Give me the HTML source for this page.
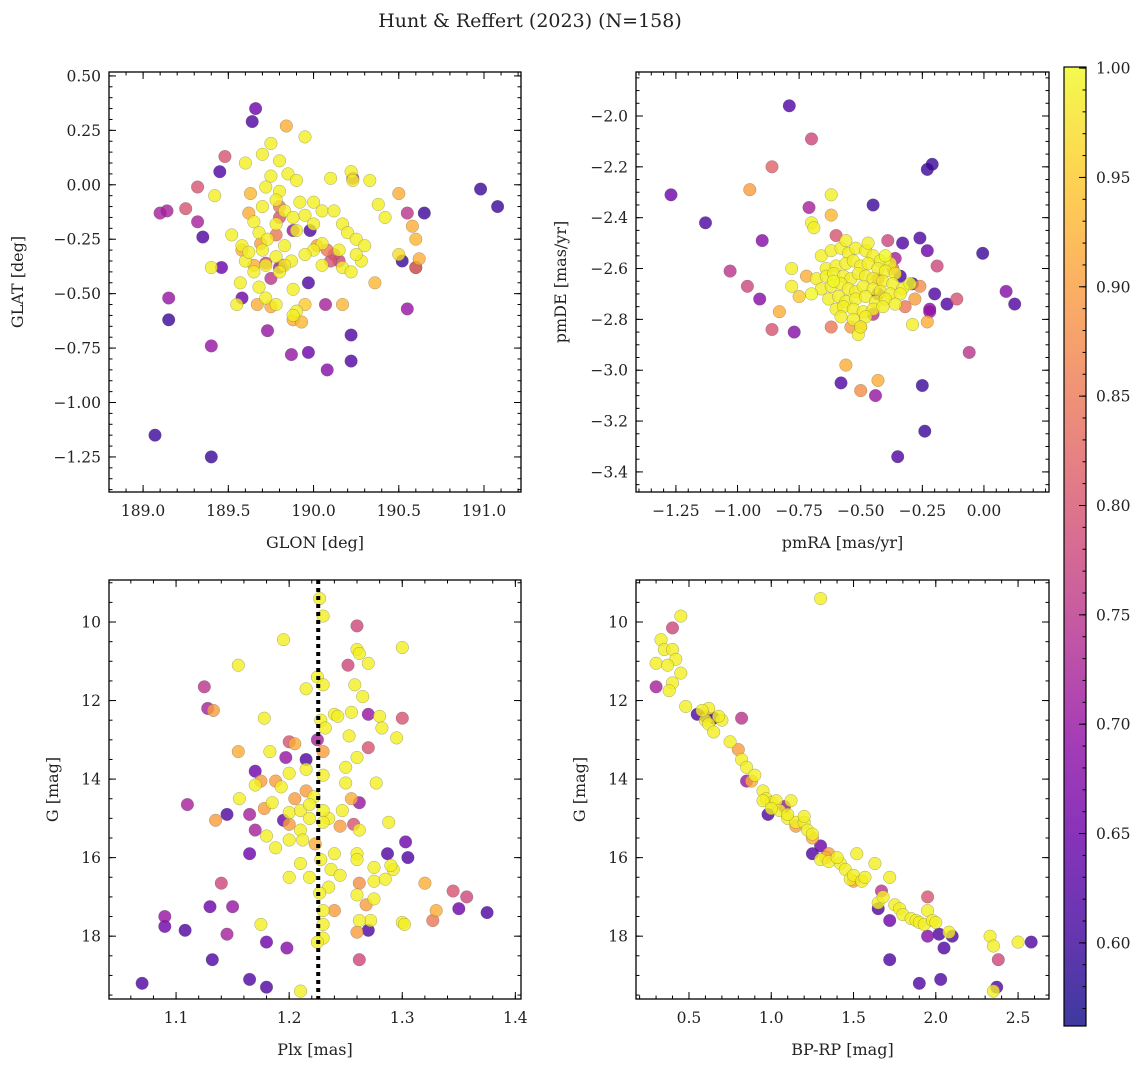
<!DOCTYPE html>
<html><head><meta charset="utf-8"><style>
html,body{margin:0;padding:0;background:#fff;}
svg text{font-family:"DejaVu Serif","Liberation Serif",serif;fill:#222;}
</style></head><body>
<svg id="fig" width="1148" height="1067" viewBox="0 0 1148 1067" xmlns="http://www.w3.org/2000/svg">
<defs>
<linearGradient id="cbgrad" x1="0" y1="1" x2="0" y2="0">
<stop offset="0" stop-color="#0d0887"/><stop offset="0.1" stop-color="#41049d"/><stop offset="0.2" stop-color="#6a00a8"/><stop offset="0.3" stop-color="#8f0da4"/><stop offset="0.4" stop-color="#b12a90"/><stop offset="0.5" stop-color="#cc4778"/><stop offset="0.6" stop-color="#e16462"/><stop offset="0.7" stop-color="#f2844b"/><stop offset="0.8" stop-color="#fca636"/><stop offset="0.9" stop-color="#fcce25"/><stop offset="1" stop-color="#f0f921"/>
</linearGradient>
</defs>
<text x="530" y="27" font-size="19" text-anchor="middle">Hunt &amp; Reffert (2023) (N=158)</text>
</svg>
<script>
// ---------- Panel 1: GLON / GLAT ----------
const p1Lon=[189.07,189.40,189.15,189.15,189.40,189.66,189.64,189.10,189.14,189.25,189.32,189.32,189.35,189.45,189.48,189.46,189.58,189.73,189.87,189.97,190.08,190.22,190.22,190.98,191.08,190.65,190.55,190.50,190.55,190.60,190.07,190.50,190.52,190.58,190.60,190.62,190.60,190.36,189.95,189.84,189.75,189.70,189.60,189.80,189.42,189.40,189.52,189.58,
189.72,189.75,189.80,189.85,189.90,189.78,189.83,189.88,189.92,189.70,189.65,189.68,189.73,189.78,189.83,189.90,189.95,190.00,190.05,190.10,190.22,190.23,190.33,190.12,190.17,190.20,190.25,190.05,190.00,189.95,189.87,189.78,189.70,189.65,189.60,189.57,189.68,189.72,189.78,189.88,189.90,189.83,190.05,190.17,190.28,190.22,190.30,190.42,190.38,190.00,190.15,190.25,189.88,189.80,189.55,189.62,189.72,
189.63,189.62,189.58,189.65,189.69,189.67,189.75,189.93,189.95,189.88,190.17,190.02,190.08,190.12,190.10,190.15,189.78,189.80,189.80,189.82,189.72,189.75,190.23,189.88,189.98,189.97,189.80];
const p1Lat=[-1.15,-1.25,-0.62,-0.52,-0.74,0.35,0.29,-0.13,-0.12,-0.11,-0.01,-0.17,-0.24,0.06,0.13,-0.38,-0.52,-0.67,-0.78,-0.77,-0.85,-0.69,-0.81,-0.02,-0.10,-0.13,-0.13,-0.04,-0.57,-0.38,-0.55,-0.32,-0.35,-0.19,-0.25,-0.34,-0.38,-0.45,0.22,0.27,0.19,0.14,0.10,0.11,-0.05,-0.38,-0.23,-0.28,
-0.01,0.04,-0.03,0.05,0.02,-0.07,-0.12,-0.15,-0.08,-0.10,-0.17,-0.22,-0.25,-0.18,-0.28,-0.21,-0.14,-0.08,-0.12,0.03,0.06,0.02,0.02,-0.12,-0.18,-0.22,-0.25,-0.27,-0.30,-0.32,-0.35,-0.33,-0.30,-0.40,-0.35,-0.45,-0.47,-0.52,-0.55,-0.48,-0.58,-0.37,-0.37,-0.38,-0.35,-0.40,-0.28,-0.15,-0.09,-0.18,-0.30,-0.32,-0.60,-0.40,-0.55,-0.31,-0.37,
-0.04,-0.13,-0.30,-0.37,-0.27,-0.55,-0.56,-0.63,-0.55,-0.62,-0.55,-0.28,-0.30,-0.32,-0.35,-0.35,-0.23,-0.10,-0.15,-0.37,-0.36,-0.43,0.03,-0.21,-0.21,-0.45,-0.38];
const p1Prob=[0.6,0.6,0.6,0.7,0.7,0.65,0.62,0.72,0.72,0.8,0.8,0.72,0.62,0.62,0.8,0.65,0.65,0.7,0.7,0.65,0.68,0.62,0.62,0.6,0.6,0.6,0.75,0.92,0.7,0.62,0.72,0.97,0.6,0.92,0.93,0.92,0.85,0.93,0.99,0.92,0.99,0.99,0.99,0.99,0.99,0.99,0.99,0.99,
0.99,0.99,0.99,0.99,0.99,0.99,0.99,0.99,0.99,0.99,0.99,0.99,0.99,0.99,0.99,0.99,0.99,0.99,0.99,0.99,0.99,0.99,0.99,0.99,0.99,0.99,0.99,0.99,0.99,0.99,0.99,0.99,0.99,0.99,0.99,0.99,0.99,0.99,0.99,0.99,0.99,0.99,0.99,0.99,0.99,0.99,0.99,0.99,0.99,0.99,0.99,0.99,0.99,0.99,0.99,0.99,0.99,
0.93,0.92,0.92,0.92,0.9,0.92,0.92,0.93,0.95,0.92,0.93,0.9,0.85,0.8,0.8,0.78,0.85,0.85,0.8,0.78,0.78,0.75,0.75,0.7,0.62,0.62,0.72];

// ---------- Panel 2: pmRA / pmDE ----------
const p2Ra=[-0.79,-0.70,-0.86,-0.95,-1.27,-1.13,-0.90,-0.71,-0.62,-0.62,-0.70,-0.69,-0.45,-0.23,-0.21,-0.39,-0.33,-0.26,-0.23,-0.19,-0.005,0.09,0.125,-0.11,-0.15,-0.20,-0.22,-0.22,-0.23,-0.06,-0.29,-1.03,-0.96,-0.91,-0.83,-0.86,-0.77,-0.72,-0.75,-0.78,-0.78,-0.56,-0.58,-0.50,-0.43,-0.44,-0.25,-0.24,-0.35,
-0.34,-0.29,-0.36,-0.45,-0.43,-0.26,-0.28,-0.32,-0.62,-0.54,-0.50,-0.60,-0.37,-0.43,
-0.66,-0.62,-0.58,-0.55,-0.52,-0.48,-0.45,-0.42,-0.38,-0.64,-0.60,-0.56,-0.53,-0.50,-0.47,-0.43,-0.40,-0.36,-0.68,-0.64,-0.61,-0.57,-0.54,-0.51,-0.48,-0.45,-0.41,-0.37,-0.33,-0.66,-0.62,-0.58,-0.55,-0.52,-0.49,-0.45,-0.42,-0.38,-0.34,-0.63,-0.59,-0.56,-0.52,-0.48,-0.44,-0.40,-0.36,-0.60,-0.57,-0.53,-0.49,-0.45,-0.41,-0.58,-0.53,-0.48,-0.51,-0.50,-0.56,-0.47,-0.40,-0.30,-0.70,-0.61];
const p2De=[-1.96,-2.09,-2.20,-2.29,-2.31,-2.42,-2.49,-2.36,-2.31,-2.39,-2.42,-2.44,-2.35,-2.21,-2.19,-2.49,-2.50,-2.48,-2.53,-2.59,-2.54,-2.69,-2.74,-2.72,-2.74,-2.70,-2.76,-2.77,-2.81,-2.93,-2.82,-2.61,-2.67,-2.72,-2.77,-2.84,-2.85,-2.63,-2.71,-2.67,-2.60,-2.98,-3.05,-3.08,-3.04,-3.10,-3.06,-3.24,-3.34,
-2.63,-2.66,-2.56,-2.78,-2.70,-2.67,-2.72,-2.75,-2.83,-2.83,-2.83,-2.47,-2.60,-2.64,
-2.55,-2.53,-2.52,-2.54,-2.52,-2.53,-2.55,-2.57,-2.58,-2.60,-2.59,-2.58,-2.57,-2.59,-2.58,-2.60,-2.61,-2.62,-2.64,-2.63,-2.62,-2.63,-2.64,-2.62,-2.63,-2.64,-2.65,-2.66,-2.68,-2.68,-2.67,-2.66,-2.68,-2.69,-2.67,-2.68,-2.69,-2.70,-2.70,-2.72,-2.71,-2.73,-2.72,-2.71,-2.73,-2.72,-2.74,-2.76,-2.75,-2.76,-2.77,-2.76,-2.75,-2.79,-2.80,-2.79,-2.86,-2.83,-2.49,-2.50,-2.55,-2.66,-2.70,-2.65];
const p2Prob=[0.62,0.78,0.82,0.9,0.65,0.62,0.68,0.72,0.99,0.93,0.99,0.99,0.6,0.6,0.6,0.78,0.62,0.62,0.65,0.78,0.6,0.68,0.62,0.8,0.62,0.62,0.68,0.7,0.92,0.75,0.99,0.75,0.78,0.68,0.92,0.8,0.68,0.92,0.95,0.99,0.99,0.92,0.62,0.88,0.92,0.7,0.6,0.6,0.62,
0.62,0.6,0.72,0.75,0.7,0.88,0.9,0.85,0.85,0.9,0.9,0.8,0.85,0.85,
0.99,0.99,0.99,0.99,0.99,0.99,0.99,0.99,0.99,0.99,0.99,0.99,0.99,0.99,0.99,0.99,0.99,0.99,0.99,0.99,0.99,0.99,0.99,0.99,0.99,0.99,0.99,0.99,0.99,0.99,0.99,0.99,0.99,0.99,0.99,0.99,0.99,0.99,0.99,0.99,0.99,0.99,0.99,0.99,0.99,0.99,0.99,0.99,0.99,0.99,0.99,0.99,0.99,0.99,0.99,0.99,0.99,0.99,0.99,0.99];

// ---------- Panel 3: Plx / G ----------
const p3Plx=[1.227,1.23,1.26,1.195,1.26,1.30,1.262,1.155,1.252,1.27,1.225,1.23,1.215,1.125,1.258,1.265,1.128,1.133,1.178,1.24,1.228,1.243,1.255,1.27,1.28,1.30,1.232,1.253,1.225,1.2,1.205,1.23,1.27,1.155,1.183,1.26,1.215,1.197,1.215,1.25,1.17,1.2,1.175,1.188,1.17,1.25,1.277,1.193,1.215,1.205,1.222,1.156,1.185,1.255,1.262,1.178,1.165,1.145,1.135,1.11,1.2,1.21,1.218,1.235,1.23,1.247,1.195,1.2,1.23,1.245,1.257,1.262,1.288,1.17,1.18,1.21,1.212,1.223,1.188,1.2,1.303,1.165,1.24,1.26,1.287,1.305,1.228,1.21,1.26,1.2,1.218,1.237,1.245,1.235,1.292,1.32,1.14,1.262,1.275,1.285,1.345,1.357,1.35,1.375,1.33,1.327,1.3,1.302,1.272,1.262,1.26,1.27,1.23,1.23,1.23,1.225,1.24,1.175,1.13,1.15,1.09,1.09,1.145,1.108,1.18,1.198,1.132,1.262,1.165,1.18,1.07,1.21,1.227,1.26,1.275,1.268,1.275,1.29,1.282,1.295,1.218,1.23];
const p3G=[9.4,9.85,10.1,10.45,10.7,10.65,10.8,11.1,11.1,11.05,11.4,11.6,11.7,11.65,11.6,11.9,12.2,12.25,12.45,12.35,12.5,12.4,12.3,12.35,12.4,12.45,12.7,12.9,13.0,13.05,13.1,13.3,13.2,13.3,13.3,13.45,13.5,13.45,13.75,13.7,13.8,13.85,14.05,14.05,14.15,14.1,14.1,14.2,14.3,14.5,14.45,14.5,14.6,14.5,14.6,14.75,14.9,14.9,15.05,14.65,14.85,14.8,15.0,15.0,14.8,14.8,15.05,15.15,15.1,15.2,15.15,15.3,15.1,15.3,15.45,15.3,15.55,15.65,15.75,15.55,15.6,15.9,15.9,15.9,15.9,16.0,16.05,16.15,16.05,16.5,16.5,16.3,16.45,16.75,16.3,16.65,16.65,16.65,16.6,16.55,16.85,17.0,17.3,17.4,17.35,17.6,17.65,17.7,17.6,17.6,17.9,17.85,17.35,17.7,18.05,18.15,17.35,17.7,17.25,17.25,17.5,17.75,17.95,17.85,18.15,18.3,18.6,18.6,19.1,19.3,19.2,19.4,16.9,16.95,17.05,17.2,16.25,16.2,12.7,12.95,14.65,13.9];
const p3Prob=[0.99,0.99,0.78,0.99,0.99,0.99,0.99,0.99,0.78,0.99,0.99,0.99,0.99,0.75,0.99,0.99,0.72,0.9,0.99,0.99,0.99,0.99,0.99,0.7,0.99,0.8,0.99,0.99,0.72,0.8,0.92,0.9,0.8,0.92,0.99,0.99,0.62,0.7,0.99,0.99,0.65,0.99,0.9,0.9,0.99,0.99,0.99,0.99,0.9,0.9,0.99,0.99,0.99,0.92,0.7,0.9,0.72,0.62,0.9,0.72,0.99,0.99,0.99,0.99,0.99,0.99,0.65,0.9,0.99,0.9,0.8,0.99,0.99,0.72,0.99,0.99,0.99,0.92,0.99,0.99,0.65,0.65,0.99,0.99,0.62,0.62,0.99,0.99,0.99,0.99,0.99,0.99,0.99,0.99,0.99,0.92,0.78,0.88,0.99,0.99,0.8,0.78,0.65,0.62,0.92,0.85,0.99,0.99,0.99,0.99,0.9,0.62,0.99,0.99,0.99,0.99,0.9,0.99,0.65,0.7,0.7,0.65,0.72,0.62,0.65,0.68,0.62,0.78,0.62,0.62,0.62,0.99,0.99,0.99,0.99,0.9,0.99,0.99,0.99,0.99,0.99,0.99];

// ---------- Panel 4: BP-RP / G ----------
const p4Col=[0.3,0.33,0.35,0.3,0.4,0.45,0.4,0.42,0.37,0.45,0.4,0.38,0.48,1.3,0.55,0.6,0.6,0.62,0.65,0.62,0.65,0.7,0.82,0.75,0.8,0.82,0.85,0.85,0.88,0.9,0.95,0.97,1.0,0.98,1.03,1.05,1.08,1.1,1.12,1.15,1.15,1.2,1.2,1.22,1.25,1.25,1.3,1.3,1.33,1.35,1.35,1.42,1.45,1.48,1.5,1.52,1.5,1.55,1.57,1.63,1.65,1.65,1.67,1.68,1.72,1.72,1.75,1.78,1.8,1.85,1.88,1.9,1.93,1.95,1.95,1.98,2.0,2.02,2.05,2.08,2.1,2.33,2.35,2.38,2.35,2.37,2.5,2.58,1.72,1.9,2.03,1.95,0.95,1.0,1.1,1.25,1.4,0.68,0.58];
const p4G=[11.05,10.45,10.7,11.65,10.15,9.85,10.7,10.95,11.1,11.3,11.55,11.75,12.15,9.4,12.35,12.4,12.5,12.2,12.45,12.6,12.8,12.5,12.45,13.05,13.25,13.5,13.7,14.05,14.05,13.9,14.3,14.5,14.6,14.9,14.55,14.8,14.7,15.0,14.55,15.1,15.2,15.1,14.95,15.3,15.5,15.9,15.7,16.05,16.0,15.9,16.1,16.15,16.3,16.55,16.6,15.9,16.45,16.6,16.5,16.15,17.3,17.15,16.85,17.0,16.5,17.6,17.2,17.3,17.45,17.55,17.6,17.65,17.7,17.0,17.35,17.6,17.65,17.95,18.3,17.9,18.0,18.0,18.25,18.6,19.4,19.3,18.15,18.15,18.6,19.2,19.1,18.0,14.55,14.75,14.9,15.4,16.0,12.4,12.25];
const p4Prob=[0.99,0.99,0.99,0.72,0.78,0.99,0.99,0.99,0.99,0.99,0.99,0.99,0.99,0.99,0.62,0.65,0.99,0.99,0.62,0.99,0.99,0.99,0.75,0.99,0.9,0.99,0.99,0.7,0.92,0.99,0.99,0.99,0.99,0.62,0.99,0.99,0.7,0.99,0.99,0.99,0.9,0.99,0.99,0.99,0.92,0.62,0.65,0.99,0.92,0.9,0.99,0.99,0.99,0.99,0.9,0.99,0.99,0.99,0.99,0.99,0.62,0.99,0.75,0.99,0.99,0.65,0.99,0.99,0.99,0.99,0.99,0.99,0.99,0.8,0.99,0.99,0.99,0.62,0.62,0.99,0.62,0.99,0.99,0.78,0.99,0.62,0.99,0.62,0.62,0.62,0.62,0.68,0.99,0.99,0.99,0.99,0.99,0.99,0.99];

// ---------- Colorbar ----------
const cbTicks=[0.60,0.65,0.70,0.75,0.80,0.85,0.90,0.95,1.00];
const cbMin=0.562, cbMax=1.0005;

const NS='http://www.w3.org/2000/svg';
const svg=document.getElementById('fig');
function el(tag,attrs,parent){const e=document.createElementNS(NS,tag);for(const k in attrs)e.setAttribute(k,attrs[k]);(parent||svg).appendChild(e);return e;}

const stops=[[0,[13,8,135]],[0.1,[65,4,157]],[0.2,[106,0,168]],[0.3,[143,13,164]],[0.4,[177,42,144]],[0.5,[204,71,120]],[0.6,[225,100,98]],[0.7,[242,132,75]],[0.8,[252,166,54]],[0.9,[252,206,37]],[1,[240,249,33]]];
function plasma(t){t=Math.max(0,Math.min(1,t));for(let i=1;i<stops.length;i++){if(t<=stops[i][0]){const a=stops[i-1],b=stops[i];const f=(t-a[0])/(b[0]-a[0]);const c=a[1].map((v,j)=>Math.round(v+(b[1][j]-v)*f));return 'rgb('+c.join(',')+')';}}return 'rgb(240,249,33)';}
function fmt(v,d){const s=Math.abs(v).toFixed(d);return (v<-1e-9?'\u2212':'')+s;}

function panel(o){
  const g=el('g',{});
  
  
  const sx=v=>o.L+(v-o.x0)/(o.x1-o.x0)*(o.R-o.L);
  const sy=v=>o.yInv? o.T+(v-o.y0)/(o.y1-o.y0)*(o.B-o.T) : o.B-(v-o.y0)/(o.y1-o.y0)*(o.B-o.T);
  const idx=o.xs.map((_,i)=>i).sort((a,b)=>o.ps[a]-o.ps[b]);
  const pg=el('g',{},g);
  
  
  for(const i of idx){
    const c=el('circle',{cx:sx(o.xs[i]).toFixed(1),cy:sy(o.ys[i]).toFixed(1),r:6.3,fill:plasma((o.ps[i]-cbMin)/(cbMax-cbMin)),'fill-opacity':0.8,stroke:'#555','stroke-opacity':0.5,'stroke-width':0.5},pg);
    
    
  }
  if(o.vline!==undefined){
    const ln=el('line',{x1:sx(o.vline),x2:sx(o.vline),y1:o.T,y2:o.B,stroke:'#000','stroke-width':4,'stroke-dasharray':'4,4'},g);
    
    
  }
  const tg=el('g',{stroke:'#000','stroke-width':1},g);
  const lo=Math.min(o.x0,o.x1),hi=Math.max(o.x0,o.x1);
  for(let k=Math.ceil(lo/o.xmin-1e-6);k*o.xmin<=hi+1e-9;k++){const v=k*o.xmin,x=sx(v);el('line',{x1:x,x2:x,y1:o.B,y2:o.B-3.5},tg);el('line',{x1:x,x2:x,y1:o.T,y2:o.T+3.5},tg);}
  const ylo=Math.min(o.y0,o.y1),yhi=Math.max(o.y0,o.y1);
  for(let k=Math.ceil(ylo/o.ymin-1e-6);k*o.ymin<=yhi+1e-9;k++){const v=k*o.ymin,y=sy(v);el('line',{x1:o.L,x2:o.L+3.5,y1:y,y2:y},tg);el('line',{x1:o.R,x2:o.R-3.5,y1:y,y2:y},tg);}
  for(const v of o.xt){const x=sx(v);el('line',{x1:x,x2:x,y1:o.B,y2:o.B-7},tg);el('line',{x1:x,x2:x,y1:o.T,y2:o.T+7},tg);
    const t=el('text',{x:x,y:o.B+24,'font-size':15.5,'text-anchor':'middle'},g);t.textContent=fmt(v,o.xd);
    
    }
  for(const v of o.yt){const y=sy(v);el('line',{x1:o.L,x2:o.L+7,y1:y,y2:y},tg);el('line',{x1:o.R,x2:o.R-7,y1:y,y2:y},tg);
    const t=el('text',{x:o.L-8,y:y+5.5,'font-size':15.5,'text-anchor':'end'},g);t.textContent=fmt(v,o.yd);
    
    }
  const fr=el('rect',{x:o.L,y:o.T,width:o.R-o.L,height:o.B-o.T,fill:'none',stroke:'#000','stroke-width':1.3},g);
  
  
  const xl=el('text',{x:(o.L+o.R)/2,y:o.B+56,'font-size':16,'text-anchor':'middle'},g);xl.textContent=o.xlabel;
  
  
  const yc=(o.T+o.B)/2;
  const yl=el('text',{x:o.ylx,y:yc,'font-size':16,'text-anchor':'middle',transform:'rotate(-90 '+o.ylx+' '+yc+')'},g);yl.textContent=o.ylabel;
  
  
}

panel({name:'glon-glat-panel',L:109,R:521,T:72,B:492,x0:188.80,x1:191.217,y0:-1.411,y1:0.518,xs:p1Lon,ys:p1Lat,ps:p1Prob,xt:[189,189.5,190,190.5,191],yt:[0.5,0.25,0,-0.25,-0.5,-0.75,-1,-1.25],xmin:0.1,ymin:0.05,xd:1,yd:2,xlabel:'GLON [deg]',ylabel:'GLAT [deg]',ylx:23});
panel({name:'proper-motion-panel',L:636,R:1049,T:72,B:492,x0:-1.412,x1:0.264,y0:-3.479,y1:-1.827,xs:p2Ra,ys:p2De,ps:p2Prob,xt:[-1.25,-1,-0.75,-0.5,-0.25,0],yt:[-2,-2.2,-2.4,-2.6,-2.8,-3,-3.2,-3.4],xmin:0.05,ymin:0.05,xd:2,yd:1,xlabel:'pmRA [mas/yr]',ylabel:'pmDE [mas/yr]',ylx:566});
panel({name:'parallax-magnitude-panel',L:109,R:521,T:580,B:999,x0:1.0407,x1:1.405,y0:8.93,y1:19.6,yInv:true,xs:p3Plx,ys:p3G,ps:p3Prob,xt:[1.1,1.2,1.3,1.4],yt:[10,12,14,16,18],xmin:0.02,ymin:0.5,xd:1,yd:0,xlabel:'Plx [mas]',ylabel:'G [mag]',ylx:58,vline:1.2257});
panel({name:'color-magnitude-panel',L:636,R:1049,T:580,B:999,x0:0.178,x1:2.688,y0:8.93,y1:19.6,yInv:true,xs:p4Col,ys:p4G,ps:p4Prob,xt:[0.5,1,1.5,2,2.5],yt:[10,12,14,16,18],xmin:0.1,ymin:0.5,xd:1,yd:0,xlabel:'BP-RP [mag]',ylabel:'G [mag]',ylx:585});

const cg=el('g',{});


const cT=67,cB=1026,cL=1064,cR=1086;
el('rect',{x:cL,y:cT,width:cR-cL,height:cB-cT,fill:'url(#cbgrad)','fill-opacity':0.8},cg);
el('rect',{x:cL,y:cT,width:cR-cL,height:cB-cT,fill:'none',stroke:'#000','stroke-width':1.2},cg);
const cy=v=>cB-(v-cbMin)/(cbMax-cbMin)*(cB-cT);
for(let k=57;k<=100;k++){const y=cy(k/100);el('line',{x1:cR,x2:cR-3.5,y1:y,y2:y,stroke:'#000','stroke-width':1},cg);}
for(const v of cbTicks){const y=cy(v);el('line',{x1:cR,x2:cR-7,y1:y,y2:y,stroke:'#000','stroke-width':1},cg);
  const t=el('text',{x:cR+10,y:y+5.5,'font-size':15.5},cg);t.textContent=v.toFixed(2);
  
  }
</script>
</body></html>
